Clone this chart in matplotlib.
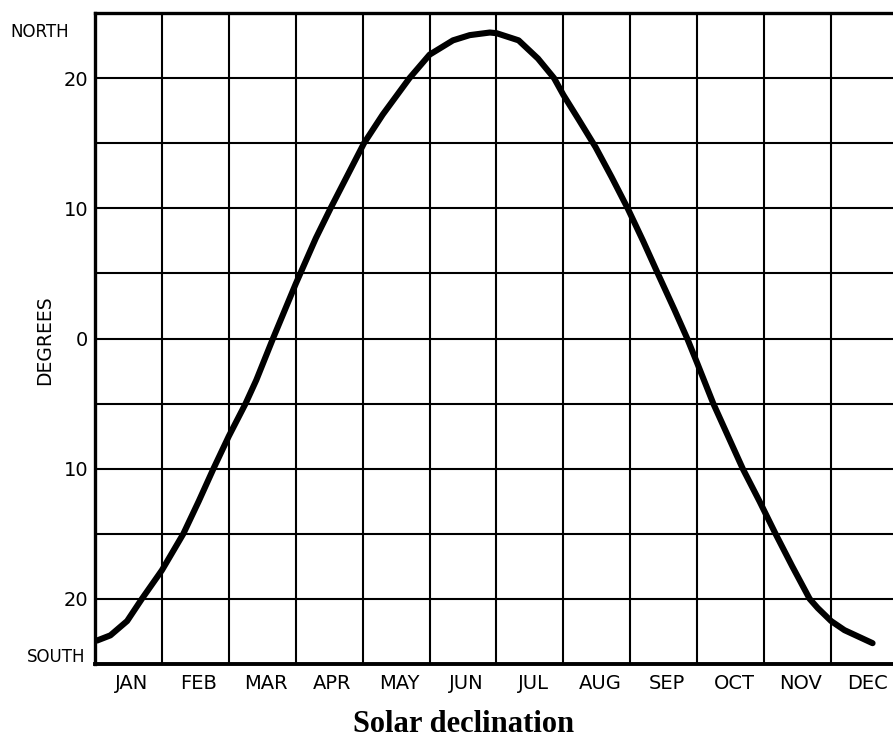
import matplotlib
matplotlib.use("Agg")
import matplotlib.pyplot as plt

# Month labels and the declination curve (x in months from 1 Jan, y in degrees)
months = ["JAN", "FEB", "MAR", "APR", "MAY", "JUN",
          "JUL", "AUG", "SEP", "OCT", "NOV", "DEC"]
month_pos = [0.03, 0.23, 0.48, 0.70, 1.00, 1.32, 1.55, 1.77, 2.00, 2.25,
             2.41, 2.66, 3.00, 3.30, 3.52, 3.77, 4.02, 4.30, 4.70, 5.00,
             5.35, 5.60, 5.90, 6.00, 6.33, 6.62, 6.86, 7.00, 7.23, 7.48,
             7.72, 7.96, 8.19, 8.41, 8.66, 8.85, 9.00, 9.24, 9.46, 9.68,
             9.93, 10.17, 10.42, 10.68, 10.80, 11.00, 11.20, 11.62]
declination = [-23.2, -22.8, -21.7, -20.0, -17.8, -15.0, -12.5, -10.0, -7.5, -5.0,
               -3.2, 0.0, 4.2, 7.7, 10.0, 12.5, 15.0, 17.2, 20.0, 21.8,
               22.9, 23.3, 23.5, 23.45, 22.9, 21.5, 20.0, 18.7, 16.8, 14.7,
               12.4, 10.0, 7.5, 5.0, 2.2, 0.0, -1.9, -5.0, -7.5, -10.0,
               -12.5, -15.0, -17.5, -20.0, -20.7, -21.7, -22.4, -23.4]
y_ticks = [20, 10, 0, -10, -20]
y_tick_labels = ["20", "10", "0", "10", "20"]

W, H = 893, 740
fig = plt.figure(figsize=(W / 100, H / 100), dpi=100)
fig.patch.set_facecolor("white")

left, right, top, bottom = 95, 898, 13, 664
ax = fig.add_axes([left / W, 1 - bottom / H, (right - left) / W, (bottom - top) / H])
ax.set_xlim(0, 12)
ax.set_ylim(-25, 25)

# grid: month boundaries and every 5 degrees
ax.set_xticks([m + 0.55 for m in range(12)])
ax.set_xticklabels(months, fontsize=14, family="DejaVu Sans")
ax.set_xticks(range(1, 12), minor=True)
ax.set_yticks(y_ticks)
ax.set_yticklabels(y_tick_labels, fontsize=14, family="DejaVu Sans")
ax.set_yticks([15, 5, -5, -15], minor=True)
ax.tick_params(axis="both", which="both", length=0)
ax.tick_params(axis="x", pad=7)
ax.tick_params(axis="y", pad=5)
ax.grid(True, axis="x", which="minor", color="black", linewidth=1.5)
ax.grid(True, axis="y", which="both", color="black", linewidth=1.5)
ax.set_axisbelow(True)

for side, lw in (("left", 2.4), ("bottom", 2.8), ("top", 2.4)):
    ax.spines[side].set_linewidth(lw)
    ax.spines[side].set_color("black")
ax.spines["right"].set_visible(False)

# the declination curve, drawn as a thick pen stroke
ax.plot(month_pos, declination, color="black", linewidth=4.4,
        solid_capstyle="round", solid_joinstyle="round", zorder=3)

fig.text(10 / W, 1 - 32 / H, "NORTH", fontsize=12, ha="left", va="center",
         family="DejaVu Sans")
fig.text(27 / W, 1 - 657 / H, "SOUTH", fontsize=12, ha="left", va="center",
         family="DejaVu Sans")
fig.text(45 / W, 1 - 340 / H, "DEGREES", fontsize=13.5, rotation=90,
         ha="center", va="center", family="DejaVu Sans")
fig.text(464 / W, 1 - 724 / H, "Solar declination", fontsize=22,
         fontweight="bold", family="Liberation Serif", ha="center", va="center")

fig.savefig("out.png", dpi=100, facecolor="white")
